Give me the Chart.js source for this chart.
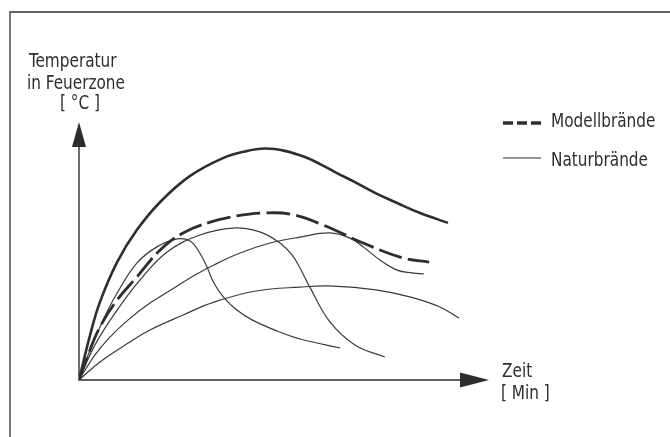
<!DOCTYPE html>
<html>
<head>
<meta charset="utf-8">
<script src="https://cdn.jsdelivr.net/npm/chart.js@4/dist/chart.umd.min.js"></script>
<style>
  body { margin: 0; background: #fff; }
  #wrap { position: relative; width: 670px; height: 437px; }
  .lbl {
    position: absolute;
    font-family: "DejaVu Sans Condensed", "DejaVu Sans", sans-serif;
    font-weight: 300;
    font-size: 20px;
    line-height: 20px;
    color: #2e2e2e;
    white-space: pre;
    transform: scaleX(0.85);
    transform-origin: left top;
  }
</style>
</head>
<body>
<div id="wrap">
  <canvas id="chart"></canvas>
  <div class="lbl" style="left:29px;top:50px;">Temperatur</div>
  <div class="lbl" style="left:27px;top:72px;">in Feuerzone</div>
  <div class="lbl" style="left:60px;top:92px;">[ °C ]</div>
  <div class="lbl" style="left:502px;top:360px;">Zeit</div>
  <div class="lbl" style="left:501px;top:382px;">[ Min ]</div>
  <div class="lbl" style="left:551px;top:110px;">Modellbrände</div>
  <div class="lbl" style="left:551px;top:149px;">Naturbrände</div>
</div>
<script>
const thickZeit = [0, 2.7, 5.1, 9.3, 14.1, 19.8, 27.1, 35.1, 40.5, 45.4, 50.2, 55.1, 58.8, 62.9, 67.3, 72.2, 77.6, 83.2, 90.0];
const thickTemp = [0, 17.4, 30.2, 45.7, 58.1, 69.0, 79.1, 86.0, 88.6, 89.7, 88.8, 86.4, 83.7, 80.2, 76.7, 72.5, 68.6, 64.7, 60.9];

// Modellbrand (gestrichelt)
const modellZeit = [0, 2.0, 5.1, 9.3, 14.1, 19.8, 25.4, 32.0, 38.5, 44.9, 51.5, 59.5, 69.3, 79.0, 85.4];
const modellTemp = [0, 8.9, 20.5, 31.0, 39.9, 50.4, 57.0, 61.2, 63.6, 64.7, 64.3, 60.1, 53.1, 47.3, 45.7];

// Naturbrände
const naturAZeit = [0, 3.9, 7.6, 12.0, 17.3, 22.4, 28.3, 32.9, 39.3, 46.6, 53.9, 61.2, 66.1, 69.3, 73.4, 77.6, 81.2, 84.1];
const naturATemp = [0, 9.7, 16.7, 23.3, 29.8, 34.9, 40.7, 44.6, 49.2, 53.1, 55.4, 57.0, 55.0, 51.6, 46.5, 42.6, 41.5, 41.1];

const naturBZeit = [0, 3.9, 9.3, 14.9, 21.5, 29.5, 37.6, 44.1, 49.0, 52.0, 53.9, 56.3, 61.2, 67.3, 74.6];
const naturBTemp = [0, 13.6, 27.1, 38.8, 49.6, 56.2, 58.9, 57.4, 53.1, 48.4, 43.4, 36.0, 22.5, 13.6, 8.9];

const naturCZeit = [0, 2.7, 5.9, 9.3, 14.1, 19.0, 23.9, 27.1, 29.0, 31.0, 32.9, 35.4, 38.5, 42.2, 48.3, 53.9, 63.7];
const naturCTemp = [0, 11.6, 23.3, 33.7, 45.3, 51.6, 54.7, 53.9, 50.4, 44.6, 37.6, 31.8, 27.1, 23.3, 19.0, 15.9, 12.4];

const naturDZeit = [0, 5.1, 12.0, 17.3, 25.4, 32.9, 43.2, 53.9, 62.0, 72.4, 80.7, 88.0, 92.7];
const naturDTemp = [0, 7.0, 14.3, 19.4, 25.2, 30.2, 34.5, 36.0, 36.4, 34.9, 32.2, 28.3, 24.0];

const legendItems = ['Modellbrände', 'Naturbrände'];

const toPoints = (xs, ys) => xs.map((x, i) => ({ x: x, y: ys[i] }));

const ink = '#2e2e2e';

const thin = (label, xs, ys) => ({
  label: label,
  data: toPoints(xs, ys),
  borderColor: '#3a3a3a',
  borderWidth: 1.2,
  pointRadius: 0,
  tension: 0.4,
});

// Achsen mit Pfeilen, Rahmen, Legendenlinien
const sketchPlugin = {
  id: 'sketch',
  afterDraw(chart) {
    const ctx = chart.ctx;
    const x = chart.scales.x;
    const y = chart.scales.y;
    const x0 = x.getPixelForValue(0);
    const y0 = y.getPixelForValue(0);
    const xEnd = x.getPixelForValue(100);
    const yEnd = y.getPixelForValue(100);

    ctx.save();
    ctx.strokeStyle = ink;
    ctx.fillStyle = ink;

    // Rahmen
    ctx.lineWidth = 1.3;
    ctx.beginPath();
    ctx.moveTo(10, 437);
    ctx.lineTo(10, 12);
    ctx.lineTo(670, 12);
    ctx.stroke();

    // Achsen
    ctx.lineWidth = 1.4;
    ctx.beginPath();
    ctx.moveTo(x0, yEnd + 25);
    ctx.lineTo(x0, y0);
    ctx.lineTo(xEnd - 29, y0);
    ctx.stroke();

    // Pfeilspitzen
    ctx.beginPath();
    ctx.moveTo(x0, yEnd);
    ctx.lineTo(x0 - 7, yEnd + 25);
    ctx.lineTo(x0 + 7, yEnd + 25);
    ctx.closePath();
    ctx.fill();

    ctx.beginPath();
    ctx.moveTo(xEnd, y0);
    ctx.lineTo(xEnd - 29, y0 - 7.5);
    ctx.lineTo(xEnd - 29, y0 + 7.5);
    ctx.closePath();
    ctx.fill();

    // Legende
    ctx.lineWidth = 3.5;
    ctx.setLineDash([10, 4]);
    ctx.beginPath();
    ctx.moveTo(503, 123);
    ctx.lineTo(542, 123);
    ctx.stroke();
    ctx.setLineDash([]);
    ctx.lineWidth = 1.2;
    ctx.beginPath();
    ctx.moveTo(503, 158);
    ctx.lineTo(541, 158);
    ctx.stroke();

    ctx.restore();
  },
};

new Chart(document.getElementById('chart'), {
  type: 'line',
  data: {
    datasets: [
      {
        label: 'Einheitstemperaturkurve',
        data: toPoints(thickZeit, thickTemp),
        borderColor: ink,
        borderWidth: 2.6,
        pointRadius: 0,
        tension: 0.4,
      },
      {
        label: legendItems[0],
        data: toPoints(modellZeit, modellTemp),
        borderColor: ink,
        borderWidth: 2.8,
        borderDash: [24, 6],
        pointRadius: 0,
        tension: 0.4,
      },
      thin(legendItems[1], naturAZeit, naturATemp),
      thin(legendItems[1], naturBZeit, naturBTemp),
      thin(legendItems[1], naturCZeit, naturCTemp),
      thin(legendItems[1], naturDZeit, naturDTemp),
    ],
  },
  options: {
    responsive: true,
    maintainAspectRatio: false,
    animation: false,
    layout: { padding: { left: 79, top: 122, right: 181, bottom: 57 } },
    scales: {
      x: { type: 'linear', min: 0, max: 100, display: false },
      y: { type: 'linear', min: 0, max: 100, display: false },
    },
    plugins: {
      legend: { display: false },
      tooltip: { enabled: false },
    },
  },
  plugins: [sketchPlugin],
});
</script>
</body>
</html>
